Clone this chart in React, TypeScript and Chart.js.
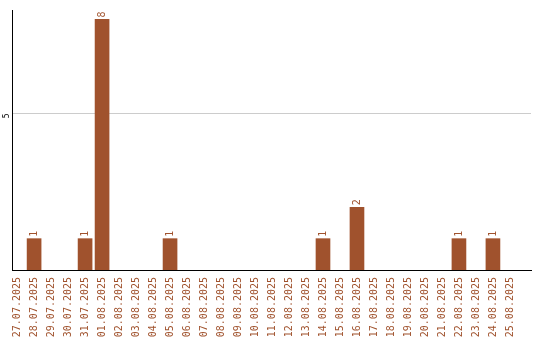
import React, { useEffect, useRef } from "react";
import { Chart, registerables } from "chart.js";

Chart.register(...registerables);

const dates: string[] = [
  "27.07.2025", "28.07.2025", "29.07.2025", "30.07.2025", "31.07.2025",
  "01.08.2025", "02.08.2025", "03.08.2025", "04.08.2025", "05.08.2025",
  "06.08.2025", "07.08.2025", "08.08.2025", "09.08.2025", "10.08.2025",
  "11.08.2025", "12.08.2025", "13.08.2025", "14.08.2025", "15.08.2025",
  "16.08.2025", "17.08.2025", "18.08.2025", "19.08.2025", "20.08.2025",
  "21.08.2025", "22.08.2025", "23.08.2025", "24.08.2025", "25.08.2025",
];

const counts: number[] = [
  0, 1, 0, 0, 1,
  8, 0, 0, 0, 1,
  0, 0, 0, 0, 0,
  0, 0, 0, 1, 0,
  2, 0, 0, 0, 0,
  0, 1, 0, 1, 0,
];

const yTicks: number[] = [5];

const BAR = "#a0522d";
const FONT = "'DejaVu Sans Mono', monospace";

// Rotated count above each non-empty bar
const valueLabels = {
  id: "valueLabels",
  afterDatasetsDraw(chart: any) {
    const ctx = chart.ctx;
    const meta = chart.getDatasetMeta(0);
    ctx.save();
    ctx.fillStyle = BAR;
    ctx.font = `10px ${FONT}`;
    ctx.textAlign = "left";
    ctx.textBaseline = "middle";
    meta.data.forEach((bar: any, i: number) => {
      const v = counts[i];
      if (!v) return;
      ctx.save();
      ctx.translate(bar.x, bar.y - 2);
      ctx.rotate(-Math.PI / 2);
      ctx.fillText(String(v), 0, 0);
      ctx.restore();
    });
    ctx.restore();
  },
};

export default function App() {
  const ref = useRef<HTMLCanvasElement | null>(null);

  useEffect(() => {
    document.body.style.margin = "0";
    const points = counts.map((v, i) => ({ x: i, y: v > 0 ? v : null }));
    const chart = new Chart(ref.current!, {
      type: "bar",
      data: {
        datasets: [
          {
            data: points,
            backgroundColor: BAR,
            borderWidth: 0,
            barThickness: 14,
          },
        ],
      },
      options: {
        animation: false,
        responsive: false,
        maintainAspectRatio: false,
        layout: { padding: { top: 10, right: 9, left: 0, bottom: 0 } },
        plugins: { legend: { display: false }, tooltip: { enabled: false } },
        scales: {
          x: {
            type: "linear",
            offset: false,
            min: -0.3,
            max: 30.24,
            afterBuildTicks: (scale: any) => {
              scale.ticks = dates.map((_, i) => ({ value: i }));
            },
            afterFit: (scale: any) => {
              scale.height = 70;
            },
            grid: { display: false, drawTicks: false },
            border: { display: true, color: "#000", width: 1 },
            ticks: {
              autoSkip: false,
              minRotation: 90,
              maxRotation: 90,
              padding: 7,
              color: BAR,
              font: { family: FONT, size: 10 },
              callback: (v: any) => dates[v as number] ?? "",
            },
          },
          y: {
            min: 0,
            max: 8.3,
            afterBuildTicks: (scale: any) => {
              scale.ticks = yTicks.map((v) => ({ value: v }));
            },
            afterFit: (scale: any) => {
              scale.width = 12;
            },
            grid: { color: "#cccccc", drawTicks: false },
            border: { display: true, color: "#000", width: 1 },
            ticks: {
              minRotation: 90,
              maxRotation: 90,
              padding: 5,
              color: "#000",
              font: { family: FONT, size: 8 },
            },
          },
        },
      },
      plugins: [valueLabels],
    });
    return () => chart.destroy();
  }, []);

  return (
    <div style={{ width: 540, height: 340 }}>
      <canvas ref={ref} width={540} height={340} />
    </div>
  );
}
